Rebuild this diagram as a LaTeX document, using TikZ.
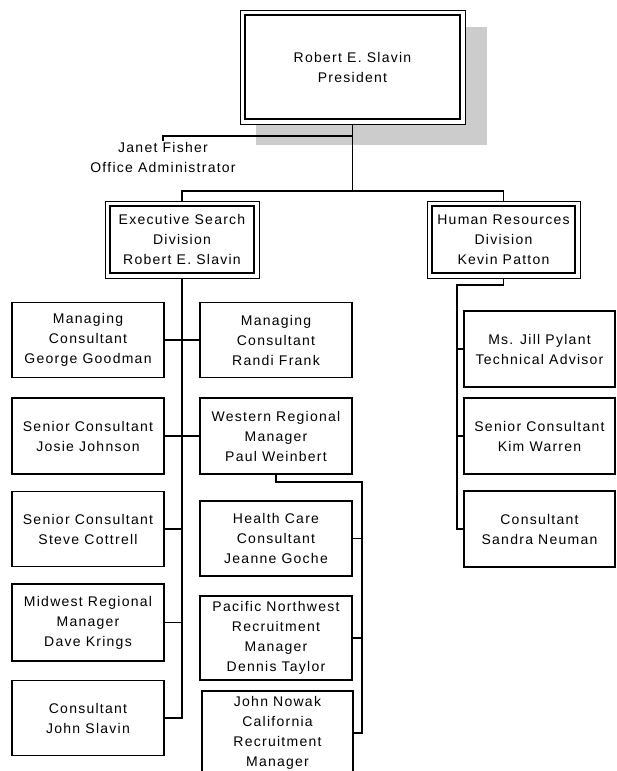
\documentclass[tikz,border=0pt]{standalone}
\usepackage{fontspec}
\setmainfont{Liberation Sans}[LetterSpace=9]
\usetikzlibrary{positioning,backgrounds}
\definecolor{shadowgray}{HTML}{CCCCCC}

\begin{document}
\begin{tikzpicture}[x=1pt,y=-1pt,line width=1.5pt,
  font=\fontsize{14}{20}\selectfont,
  card/.style={draw,align=center,inner sep=0pt,minimum width=152pt,minimum height=75pt},
  head/.style={card,line width=2pt,fill=white},
  frame/.style={draw,line width=1pt,fill=white}]
  \useasboundingbox (0,0) rectangle (616,771);
  \clip (0,0) rectangle (616,771);

  \node[head,minimum width=215pt,minimum height=104pt] (pres) at (352.5,67) {Robert E. Slavin\\President};
  \node[anchor=north,align=center,inner sep=1pt] (janet) at (163,141) {Janet Fisher\\Office Administrator};
  \node[head,minimum width=144pt,minimum height=67pt] (exec) at (182,239.5) {Executive Search\\Division\\Robert E. Slavin};
  \node[head,minimum width=143pt,minimum height=67pt] (hr) at (503.5,239.5) {Human Resources\\Division\\Kevin Patton};

  \begin{scope}[on background layer]
    \fill[shadowgray] ([xshift=12pt,yshift=-13pt]pres.north west) rectangle ([xshift=26pt,yshift=-25pt]pres.south east);
    \foreach \n in {pres,exec,hr}
      \draw[frame] ([xshift=-4pt,yshift=4pt]\n.north west) rectangle ([xshift=4pt,yshift=-4pt]\n.south east);
  \end{scope}

  \node[card] (george) at (88,340) {Managing\\Consultant\\George Goodman};
  \node[card,minimum height=76pt] (josie) at (88,436) {Senior Consultant\\Josie Johnson};
  \node[card] (steve) at (88,529) {Senior Consultant\\Steve Cottrell};
  \node[card,minimum height=77pt] (dave) at (88,622.5) {Midwest Regional\\Manager\\Dave Krings};
  \node[card] (john) at (88,718) {Consultant\\John Slavin};

  \node[card] (randi) at (276,340) {Managing\\Consultant\\Randi Frank};
  \node[card,minimum height=76pt] (western) at (276,436) {Western Regional\\Manager\\Paul Weinbert};
  \node[card] (health) at (276,538.5) {Health Care\\Consultant\\Jeanne Goche};
  \node[card,minimum height=84pt] (pacific) at (276,638) {Pacific Northwest\\Recruitment\\Manager\\Dennis Taylor};
  \node[card,minimum width=151pt,minimum height=84pt] (nowak) at (277.5,733) {John Nowak\\California\\Recruitment\\Manager};

  \node[card,minimum width=151pt,minimum height=76pt] (jill) at (539.5,349) {Ms. Jill Pylant\\Technical Advisor};
  \node[card,minimum width=151pt,minimum height=76pt] (kim) at (539.5,436) {Senior Consultant\\Kim Warren};
  \node[card,minimum width=151pt,minimum height=76pt] (sandra) at (539.5,529) {Consultant\\Sandra Neuman};

  \coordinate (tie) at (352.5,136);
  \coordinate (bar) at (352.5,191);
  \coordinate (hrbus) at (457,285);
  \coordinate (wbus) at (362,482);

  \draw ([yshift=-4pt]pres.south) -- (bar);
  \draw (janet.north) |- (tie);
  \draw ([yshift=4pt]exec.north) |- (bar) -| ([yshift=4pt]hr.north);
  \draw ([yshift=-4pt]exec.south) -- (exec.south |- john.east) -- (john.east);
  \draw (george.east) -- (randi.west);
  \draw (josie.east) -- (western.west);
  \foreach \n in {steve,dave}
    \draw (\n.east) -- (\n.east -| exec.south);
  \draw ([yshift=-4pt]hr.south) |- (hrbus) -- (hrbus |- sandra.west) -- (sandra.west);
  \foreach \n in {jill,kim}
    \draw (hrbus |- \n.west) -- (\n.west);
  \draw (western.south) |- (wbus) -- (wbus |- nowak.east) -- (nowak.east);
  \foreach \n in {health,pacific}
    \draw (\n.east) -- (\n.east -| wbus);
\end{tikzpicture}
\end{document}
